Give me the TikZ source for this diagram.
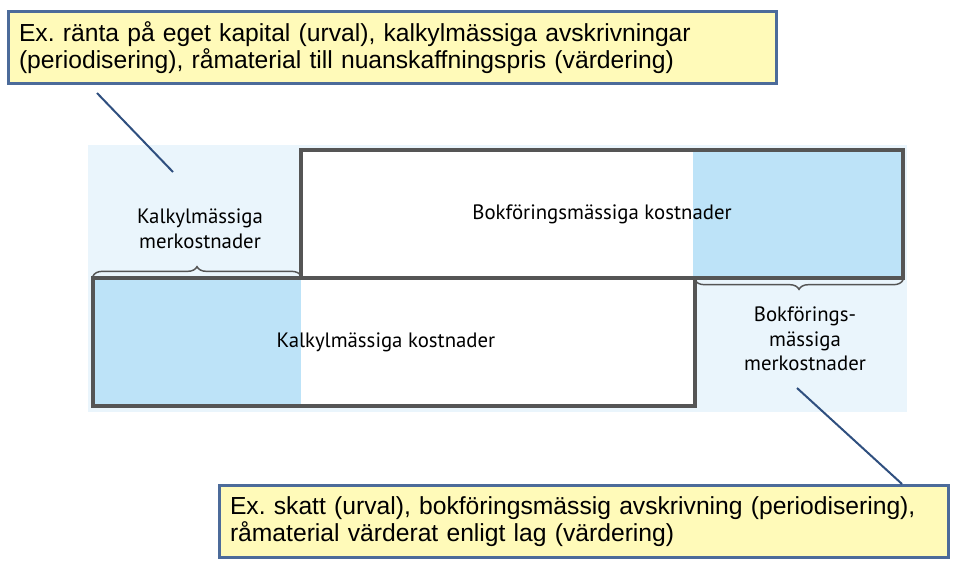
\documentclass[tikz,border=0pt]{standalone}
\usepackage{fontspec}
\setmainfont{Liberation Sans}
\newfontfamily\diagfont{PT Sans}
\usetikzlibrary{positioning,decorations.pathreplacing,calc}

\definecolor{bgblue}{HTML}{EAF5FC}
\definecolor{fillblue}{HTML}{BDE3F8}
\definecolor{boxgray}{HTML}{555555}
\definecolor{notefill}{HTML}{FFFAB9}
\definecolor{noteedge}{HTML}{4C6B9A}
\definecolor{pointer}{HTML}{2F4F7F}

\begin{document}
\begin{tikzpicture}[
  x=0.75pt, y=-0.75pt,
  costbox/.style={draw=boxgray, fill=white, line width=2.6pt, inner sep=0pt, outer sep=0pt,
    anchor=north west, minimum height=96pt, font=\diagfont\fontsize{15.6}{18}\selectfont},
  merlabel/.style={align=center, inner sep=0pt, font=\diagfont\fontsize{15.6}{18.5}\selectfont},
  costbrace/.style={draw=boxgray, line width=1.1pt, decorate,
    decoration={brace, amplitude=7pt, raise=1.5pt}},
  note/.style={draw=noteedge, fill=notefill, line width=2pt, anchor=north west,
    align=left, inner xsep=8pt, inner ysep=0pt, minimum height=54pt,
    font=\fontsize{18.5}{20}\selectfont},
  pointline/.style={draw=pointer, line width=1.5pt}
]
  \useasboundingbox (0,0) rectangle (953,562);
  \fill[bgblue] (88,145) rectangle (907,412);

  \node[costbox, minimum width=451.5pt,
    path picture={\fill[fillblue] ($(path picture bounding box.north east)+(-210,0)$)
      rectangle (path picture bounding box.south east);}]
    (bok) at (301,150) {Bokföringsmässiga kostnader};
  \node[costbox, minimum width=451.5pt,
    path picture={\fill[fillblue] (path picture bounding box.north west)
      rectangle ($(path picture bounding box.south west)+(208,0)$);}]
    (kalk) at (93,278) {\hspace{-12pt}Kalkylmässiga kostnader};

  \draw[costbrace] (kalk.north west) -- (bok.south west);
  \draw[costbrace] (bok.south east) -- (kalk.north east);

  \node[merlabel] (kalkmer) at (200,229) {Kalkylmässiga\\merkostnader};
  \node[merlabel] (bokmer) at (805,339) {Bokförings-\\mässiga\\merkostnader};

  \node[note, text width=560pt] (rantenote) at (7,10)
    {Ex.\ ränta på eget kapital (urval), kalkylmässiga avskrivningar\\
     (periodisering), råmaterial till nuanskaffningspris (värdering)};
  \node[note, text width=531pt] (skattnote) at (218,484)
    {Ex.\ skatt (urval), bokföringsmässig avskrivning (periodisering),\\
     råmaterial värderat enligt lag (värdering)};

  \coordinate (ranteA) at (97,93);
  \coordinate (ranteB) at (173,172);
  \coordinate (skattA) at (797,388);
  \draw[pointline] (ranteA) -- (ranteB);
  \draw[pointline] (skattA) -- ($(skattnote.north east)+(-48,0)$);
\end{tikzpicture}
\end{document}
